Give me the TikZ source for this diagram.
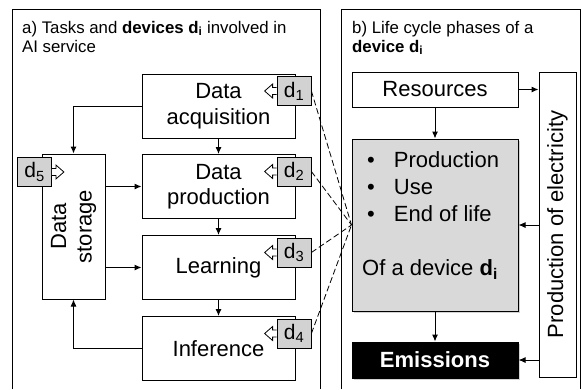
\documentclass[tikz,border=0pt]{standalone}
\usepackage{fontspec}
\setmainfont{Liberation Sans}
\usetikzlibrary{arrows.meta, positioning, calc, shadows}

\newcommand{\mainsize}{\fontsize{22}{25.5}\selectfont}
\newcommand{\titlesize}{\fontsize{16.8}{19}\selectfont}
\newcommand{\tagsize}{\fontsize{21}{22}\selectfont}

% pointer of a device tag, on its left or right side
\newcommand{\pointleft}[1]{%
  \draw[line width=0.8pt, fill=white] ($(#1.west)+(0,-3.5)$) -- ++(-4,0) -- ++(0,-3.5)
    -- ++(-8,7) -- ++(8,7) -- ++(0,-3.5) -- ($(#1.west)+(0,3.5)$);}
\newcommand{\pointright}[1]{%
  \draw[line width=0.8pt, fill=white] ($(#1.east)+(0,-3.5)$) -- ++(4,0) -- ++(0,-3.5)
    -- ++(8,7) -- ++(-8,7) -- ++(0,-3.5) -- ($(#1.east)+(0,3.5)$);}

\tikzset{
  task/.style={draw, line width=1pt, fill=white, minimum width=153pt, minimum height=64pt,
    align=center, font=\mainsize, inner sep=0pt},
  devtag/.style={draw, line width=0.8pt, fill=gray!35, minimum width=34pt, minimum height=29pt,
    inner sep=0pt, font=\tagsize},
  phase/.style={draw, line width=1pt, minimum width=166pt, font=\mainsize, inner sep=0pt},
  flow/.style={line width=1pt, -{Latex[length=7pt,width=6pt]}},
  link/.style={line width=0.8pt, dash pattern=on 6pt off 3pt},
  shade/.style={drop shadow={shadow xshift=2pt, shadow yshift=-2pt, opacity=0.35}},
}

\begin{document}
\begin{tikzpicture}[x=1pt, y=-1pt]
    \useasboundingbox (0,0) rectangle (581,389);

    % panels
    \draw[line width=1pt] (12,389) -- (12,9.5) -- (320,9.5) -- (320,389);
    \draw[line width=1pt] (341,389) -- (341,9.5) -- (580,9.5) -- (580,389);
    \node[anchor=north west, align=left, inner sep=0pt, font=\titlesize] (titleA) at (22,21)
        {a) Tasks and \textbf{devices d\textsubscript{i}} involved in\\AI service};
    \node[anchor=north west, align=left, inner sep=0pt, font=\titlesize] (titleB) at (352,21)
        {b) Life cycle phases of a\\\textbf{device d\textsubscript{i}}};

    % a) tasks
    \node[task] (acq) at (218.5,106) {Data\\acquisition};
    \node[task] (prod) at (218.5,186.5) {Data\\production};
    \node[task] (learn) at (218.5,267.5) {Learning};
    \node[task] (infer) at (218.5,348.5) {Inference};
    \node[task, minimum width=63pt, minimum height=145pt] (store) at (73.5,226.5) {};
    \node[rotate=90, align=center, font=\mainsize, inner sep=0pt] (storetext) at (store) {Data\\storage};

    \draw[flow] (acq.west) -| (store.north);
    \draw[flow] (acq.south) -- (prod.north);
    \draw[flow] (store.east |- prod) -- (prod.west);
    \draw[flow] (prod.south) -- (learn.north);
    \draw[flow] (store.east |- learn) -- (learn.west);
    \draw[flow] (learn.south) -- (infer.north);
    \draw[flow] (infer.west) -| (store.south);

    % device tags
    \foreach \t/\n in {acq/1, prod/2, learn/3, infer/4} {
        \node[devtag] (d\n) at ($(\t.north east)+(-1.5,17.5)$) {d\textsubscript{\n}};
        \pointleft{d\n}
    }
    \node[devtag] (d5) at ($(store.north west)+(-7,18.5)$) {d\textsubscript{5}};
    \pointright{d5}

    % b) life cycle
    \node[phase, minimum height=35pt] (res) at (435,89.5) {Resources};
    \node[phase, minimum height=172pt, fill=gray!30, shade] (life) at (435,225) {};
    \node[phase, minimum height=36pt, fill=black, text=white, font=\mainsize\bfseries, shade] (emis) at (435,360) {Emissions};
    \node[draw, line width=1pt, minimum width=37pt, minimum height=305pt] (elec) at (557.5,224.5) {};
    \node[rotate=90, font=\mainsize, inner sep=0pt] (electext) at (elec) {Production of electricity};

    \node[anchor=base west, inner sep=0pt, font=\fontsize{22}{27}\selectfont] (lst) at (367,167)
        {\begin{tabular}[t]{@{}l@{\hspace{19pt}}l@{}}
            \textbullet & Production\\
            \textbullet & Use\\
            \textbullet & End of life
        \end{tabular}};
    \node[anchor=base west, inner sep=0pt, font=\mainsize] (ofdev) at (362,275)
        {Of a device \textbf{d\textsubscript{i}}};

    \draw[flow] (res.east) -- (res.east -| elec.west);
    \draw[flow] (res.south) -- (life.north);
    \draw[flow] (elec.west |- life) -- (life.east);
    \draw[flow] (elec.west |- emis) -- (emis.east);
    \draw[flow] (life.south) -- (emis.north);

    % devices to life cycle
    \foreach \n in {1,2,3,4}
        \draw[link] (d\n.east) -- (life.west);
\end{tikzpicture}
\end{document}
